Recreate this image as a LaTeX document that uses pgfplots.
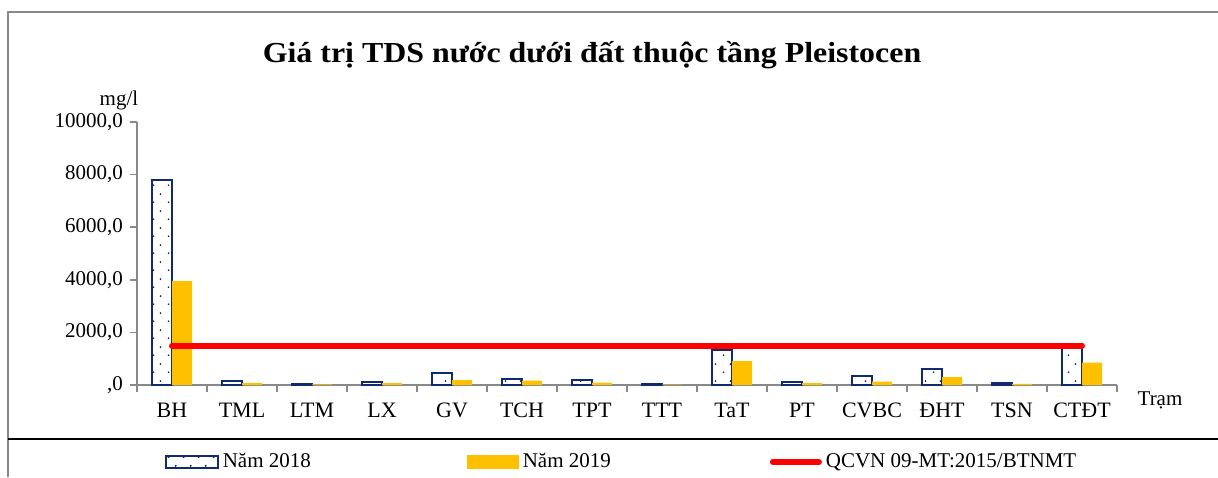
\documentclass[border=0pt]{standalone}
\usepackage{pgfplots}
\pgfplotsset{compat=1.18}
\usepackage{fontspec}
\setmainfont{Liberation Serif}
\usetikzlibrary{patterns.meta}
\definecolor{navy}{RGB}{16,42,110}
\definecolor{gold}{RGB}{255,192,0}
\definecolor{framegray}{RGB}{137,137,137}
\pgfdeclarepattern{name=sparsedots, type=uncolored,
  bottom left={\pgfpoint{0pt}{0pt}}, top right={\pgfpoint{7.5pt}{8.5pt}},
  tile size={\pgfpoint{7.5pt}{8.5pt}},
  code={\pgfpathcircle{\pgfpoint{1.9pt}{2pt}}{0.5pt}\pgfpathcircle{\pgfpoint{5.6pt}{6.25pt}}{0.5pt}\pgfusepath{fill}}}
\pgfplotsset{
  leg2018/.style={legend image code/.code={\draw[navy, line width=0.9pt, fill=white, postaction={pattern={sparsedots}, pattern color=navy}] (0pt,-3pt) rectangle (26pt,3pt);}},
  leg2019/.style={legend image code/.code={\fill[gold] (0pt,-3.5pt) rectangle (26pt,3.5pt);}},
  legline/.style={legend image code/.code={\path (0pt,0pt); \draw[red, line width=3pt, line cap=round] (1.5pt,0pt) -- (24.5pt,0pt);}},
}
\pgfplotstableread{
x y2018 y2019
0 7800 3950
1 150 80
2 30 20
3 110 70
4 445 190
5 215 165
6 190 90
7 30 15
8 1330 910
9 100 70
10 330 125
11 620 300
12 75 40
13 1500 850
}\datatable
\pgfplotstableread{
x y
0 1500
13 1500
}\limittable
\begin{document}
\begin{tikzpicture}
\useasboundingbox (0,0) rectangle (609pt,238.5pt);
\draw[framegray, line width=1pt] (4pt,0) -- (4pt,232.5pt) -- (609pt,232.5pt);
\draw[black, line width=0.9pt] (4pt,19pt) -- (609pt,19pt);
\node[font=\bfseries\fontsize{14.5}{16}\selectfont, xscale=1.1] at (296pt,211pt) {Giá trị TDS nước dưới đất thuộc tầng Pleistocen};
\node[font=\fontsize{10.5}{12}\selectfont] at (59.5pt,188.5pt) {mg/l};
\node[font=\fontsize{10.5}{12}\selectfont] at (580pt,38.5pt) {Trạm};
\begin{axis}[
  at={(68.5pt,46pt)}, anchor=south west,
  scale only axis, width=490pt, height=131.5pt,
  xmin=-0.5, xmax=13.5, ymin=0, ymax=10000,
  clip=false,
  axis lines*=left,
  axis line style={framegray, line width=1pt},
  ybar, bar width=10pt,
  xtick={0,...,13},
  xticklabels={BH,TML,LTM,LX,GV,TCH,TPT,TTT,TaT,PT,CVBC,ĐHT,TSN,CTĐT},
  minor xtick={-0.5,0.5,...,13.5},
  major x tick style={draw=none},
  minor x tick style={framegray, line width=0.8pt},
  tick align=outside,
  minor tick length=3.5pt,
  major tick length=3.5pt,
  scaled y ticks=false,
  ytick={0,2000,4000,6000,8000,10000},
  yticklabels={{,0},{2000,0},{4000,0},{6000,0},{8000,0},{10000,0}},
  y tick style={framegray, line width=0.8pt},
  ticklabel style={font=\fontsize{10.5}{12}\selectfont},
  xticklabel style={yshift=-2pt, font=\fontsize{11}{12}\selectfont},
  legend style={draw=none, fill=none, at={(0.022,-0.293)}, anchor=west,
    legend columns=3, font=\fontsize{10.5}{12}\selectfont,
    /tikz/every even column/.append style={column sep=76pt}},
  legend cell align=left,
]
\addplot[draw=navy, line width=0.9pt, fill=white, postaction={pattern={sparsedots}, pattern color=navy}, bar shift=-5pt, leg2018]
  table[x=x, y=y2018] {\datatable};
\addlegendentry{Năm 2018}
\addplot[draw=none, fill=gold, bar shift=5pt, leg2019]
  table[x=x, y=y2019] {\datatable};
\addlegendentry{Năm 2019}
\addplot[sharp plot, red, line width=3pt, line cap=round, bar shift=0pt, legline]
  table[x=x, y=y] {\limittable};
\addlegendentry{QCVN 09-MT:2015/BTNMT}
\end{axis}
\end{tikzpicture}
\end{document}
